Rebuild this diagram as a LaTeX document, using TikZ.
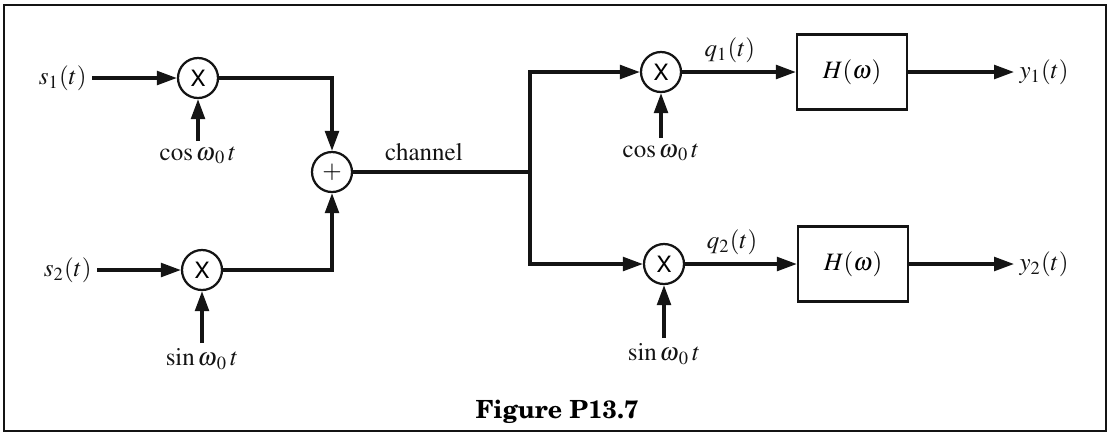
\documentclass[tikz,border=0pt]{standalone}
\usepackage[T1]{fontenc}
\usepackage{mathptmx}
\usetikzlibrary{arrows.meta}
\definecolor{ink}{HTML}{141414}
\newcommand{\carrier}[1]{$#1\omega_{\mkern2mu 0}\,t$}
\tikzset{
  >={Triangle[length=8pt,width=5.5pt]},
  mixer/.style={circle,draw=ink,line width=.9pt,minimum size=16pt,inner sep=0pt,font=\fontfamily{phv}\selectfont\small},
  filt/.style={draw=ink,line width=.9pt,minimum width=44pt,minimum height=30pt,inner sep=0pt},
  sig/.style={inner sep=2pt,text=ink},
  flow/.style={->,draw=ink,line width=1.3pt},
  wire/.style={draw=ink,line width=1.3pt}
}

\begin{document}
\begin{tikzpicture}[x=.4pt,y=-.4pt]
  \useasboundingbox (0,0) rectangle (1110,436);
  \draw[ink,line width=.8pt] (4,5) rectangle (1106,431);

  % transmitter side
  \node[mixer] (m1) at (198,78) {X};
  \node[mixer] (m2) at (202,270) {X};
  \node[mixer,font=\normalsize] (add) at (332,172) {$+$};
  \node[sig,anchor=east] (s1) at (92,78) {$s_1(t)$};
  \node[sig,anchor=east] (s2) at (97,270) {$s_2(t)$};
  \node[sig,anchor=north] (c1) at (198,141) {\carrier{\cos}};
  \node[sig,anchor=north] (n2) at (202,343) {\carrier{\sin}};
  \coordinate (j) at (530,172);

  % receiver side
  \node[mixer] (m3) at (661,72) {X};
  \node[mixer] (m4) at (664,264) {X};
  \node[sig,anchor=north] (c3) at (661,138) {\carrier{\cos}};
  \node[sig,anchor=north] (n4) at (664,338) {\carrier{\sin}};
  \node[filt] (h1) at (852,72) {$H(\omega)$};
  \node[filt] (h2) at (853,264) {$H(\omega)$};
  \node[sig,anchor=west] (y1) at (1014,72) {$y_1(t)$};
  \node[sig,anchor=west] (y2) at (1014,264) {$y_2(t)$};
  \node[font=\fontfamily{pnc}\selectfont\bfseries] (fig) at (557,412) {Figure P13.7};

  \draw[flow] (s1) -- (m1);
  \draw[flow] (s2) -- (m2);
  \draw[flow] (c1) -- (m1);
  \draw[flow] (n2) -- (m2);
  \draw[flow] (m1) -| (add);
  \draw[flow] (m2) -| (add);
  \draw[wire] (add) -- node[sig,pos=.4,above=2pt] (ch) {channel} (j);
  \draw[flow] (j) |- (m3);
  \draw[flow] (j) |- (m4);
  \draw[flow] (c3) -- (m3);
  \draw[flow] (n4) -- (m4);
  \draw[flow] (m3) -- node[sig,pos=.42,above=1pt] (q1) {$q_1(t)$} (h1);
  \draw[flow] (m4) -- node[sig,pos=.42,above=1pt] (q2) {$q_2(t)$} (h2);
  \draw[flow] (h1) -- (y1);
  \draw[flow] (h2) -- (y2);
\end{tikzpicture}
\end{document}
